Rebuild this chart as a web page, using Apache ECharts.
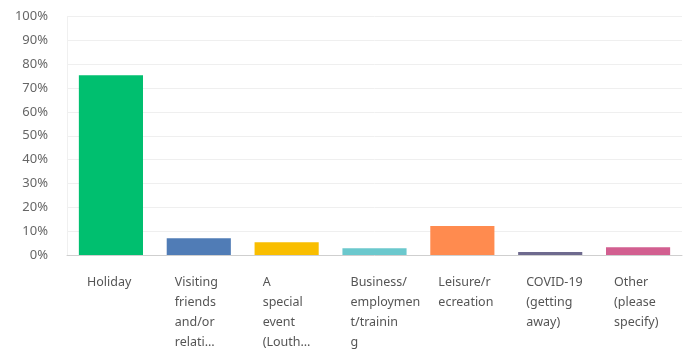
<!DOCTYPE html>
<html>
<head>
<meta charset="utf-8">
<script src="https://cdn.jsdelivr.net/npm/echarts@6/dist/echarts.min.js"></script>
<style>
  html, body { margin: 0; padding: 0; background: #fff; }
  #chart { width: 683px; height: 352px; }
</style>
</head>
<body>
<div id="chart"></div>
<script>
// Reasons for visiting — share of respondents (%)
const categories = [
  'Holiday',
  'Visiting\nfriends\nand/or\nrelati…',
  'A\nspecial\nevent\n(Louth…',
  'Business/\nemploymen\nt/trainin\ng',
  'Leisure/r\necreation',
  'COVID-19\n(getting\naway)',
  'Other\n(please\nspecify)'
];
const values = [75.4, 7.0, 5.3, 2.8, 12.2, 1.3, 3.3];
const barColors = ['#00BF6F', '#507CB6', '#F9BE00', '#6BC8CD', '#FF8B4F', '#6E6A8E', '#D25F90'];
const yTicks = [0, 10, 20, 30, 40, 50, 60, 70, 80, 90, 100];

const chart = echarts.init(document.getElementById('chart'));
chart.setOption({
  animation: false,
  grid: { left: 67, top: 16.5, width: 615, height: 240.5, containLabel: false },
  xAxis: {
    type: 'category',
    data: categories,
    axisLine: { show: true, lineStyle: { color: '#cfcfcf', width: 1 } },
    axisTick: { show: false },
    axisLabel: {
      interval: 0,
      align: 'left',
      verticalAlign: 'top',
      margin: 17,
      padding: [0, 0, 0, -24],
      color: '#555',
      fontFamily: 'Noto Sans',
      fontSize: 12.5,
      lineHeight: 20
    }
  },
  yAxis: {
    type: 'value',
    min: yTicks[0],
    max: yTicks[yTicks.length - 1],
    interval: 10,
    axisLine: { show: true, lineStyle: { color: '#f0f0f0' } },
    axisTick: { show: false },
    splitLine: { lineStyle: { color: '#efefef', width: 1 } },
    axisLabel: {
      margin: 19,
      color: '#666',
      fontFamily: 'Noto Sans',
      fontSize: 13,
      formatter: v => v + '%'
    }
  },
  series: [{
    type: 'bar',
    barCategoryGap: '27%',
    data: values.map((v, i) => ({ value: v, itemStyle: { color: barColors[i] } }))
  }]
});
</script>
</body>
</html>
